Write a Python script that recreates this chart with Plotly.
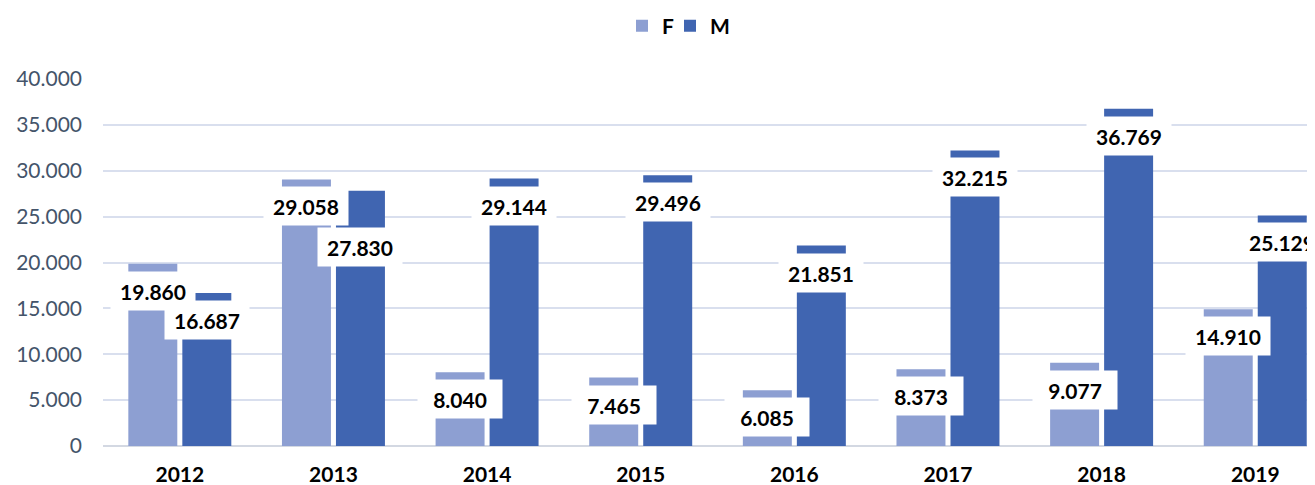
import plotly.graph_objects as go

years = ["2012", "2013", "2014", "2015", "2016", "2017", "2018", "2019"]
f_values = [19860, 29058, 8040, 7465, 6085, 8373, 9077, 14910]
m_values = [16687, 27830, 29144, 29496, 21851, 32215, 36769, 25129]
y_ticks = [0, 5000, 10000, 15000, 20000, 25000, 30000, 35000, 40000]

# label nudges (pixels) where the source moved a label to avoid overlap
label_extra_shift = {("M", "2013"): -29}

F_COLOR = "#8D9FD2"
M_COLOR = "#4065B1"
FONT = "Lato"
BARGAP = 0.297
GROUPGAP = 0.093
slot_offset = (1 - BARGAP) / 4  # center offset of each bar in the group

# the page body adds an 8px margin; size the figure so it fits the window
W, H = 1307, 477

xs = list(range(len(years)))


def fmt(v):
    return f"{v:,}".replace(",", ".")


fig = go.Figure()
fig.add_trace(go.Bar(name="F", x=xs, y=f_values, legend="legend",
                     marker=dict(color=F_COLOR, line=dict(width=0))))
fig.add_trace(go.Bar(name="M", x=xs, y=m_values, legend="legend2",
                     marker=dict(color=M_COLOR, line=dict(width=0))))

annotations = []
for name, series, sign in (("F", f_values, -1), ("M", m_values, 1)):
    for i, v in enumerate(series):
        annotations.append(dict(
            x=i + sign * slot_offset, y=v, xref="x", yref="y",
            text=fmt(v), showarrow=False, yanchor="top", xanchor="center",
            yshift=-7 + label_extra_shift.get((name, years[i]), 0),
            bgcolor="white", borderpad=0, width=84, height=38,
            font=dict(family=FONT, size=21, color="black", weight="bold"),
        ))

legend_common = dict(
    orientation="h", xref="container", yref="container",
    xanchor="left", y=1 - 18 / H, yanchor="middle",
    font=dict(family=FONT, size=21, color="black", weight="bold"),
    itemwidth=30, bgcolor="rgba(0,0,0,0)",
)

fig.update_layout(
    width=W, height=H,
    margin=dict(l=95, r=0, t=71, b=39),
    paper_bgcolor="white", plot_bgcolor="white",
    barmode="group", bargap=BARGAP, bargroupgap=GROUPGAP,
    separators=",.",
    font=dict(family=FONT),
    showlegend=True,
    legend=dict(x=614 / W, **legend_common),
    legend2=dict(x=662 / W, **legend_common),
    annotations=annotations,
    xaxis=dict(
        range=[-0.5, 7.389], tickvals=xs, ticktext=years,
        showgrid=False, zeroline=False, showline=False, ticks="",
        tickfont=dict(family=FONT, size=21, color="black", weight="bold"),
        ticklabelstandoff=14, fixedrange=True,
    ),
    yaxis=dict(
        range=[0, 40000], tickvals=y_ticks, tickformat=",d",
        showgrid=True, gridcolor="#D9DFEE", gridwidth=2,
        zeroline=True, zerolinecolor="#D3D8E2", zerolinewidth=2,
        showline=False, ticks="",
        tickfont=dict(family=FONT, size=21, color="#44546A"),
        ticklabelstandoff=20, fixedrange=True,
    ),
)

fig.write_html("out.html")
